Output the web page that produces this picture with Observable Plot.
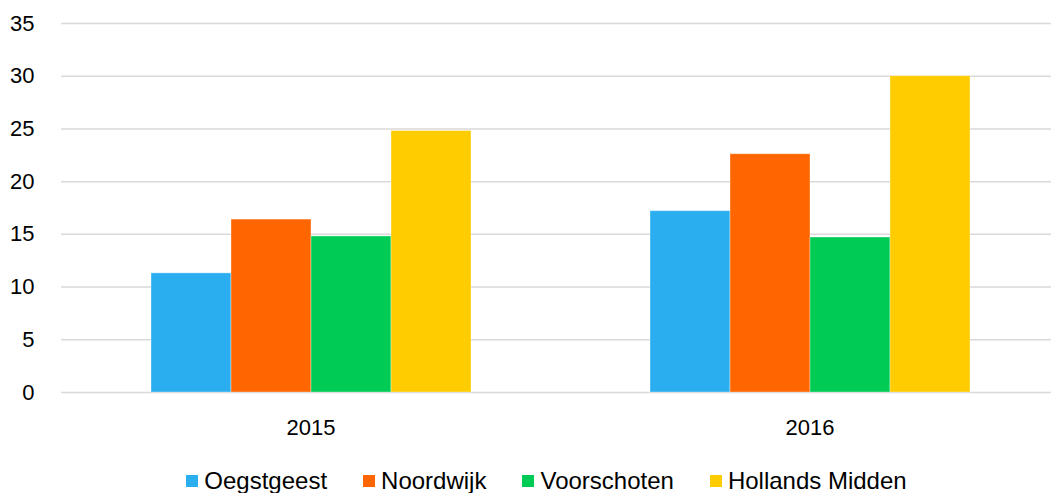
<!DOCTYPE html>
<html>
<head>
<meta charset="utf-8">
<script src="https://cdn.jsdelivr.net/npm/d3@7"></script>
<script src="https://cdn.jsdelivr.net/npm/@observablehq/plot@0.6"></script>
<style>
  html, body { margin: 0; padding: 0; background: #fff; overflow: hidden; }
  #chart svg { display: block; }
  .legend { display: flex; justify-content: center; align-items: center; gap: 0; padding-left: 42px;
            font-family: "Liberation Sans", Arial, sans-serif; font-size: 24px; color: #000; margin-top: 12px; }
  .legend .item { display: flex; align-items: center; margin: 0 18px; }
  .legend .sw { width: 12px; height: 12px; margin-right: 6px; }
</style>
</head>
<body>
<div id="chart"></div>
<script>
const years = ["2015", "2016"];
const series = ["Oegstgeest", "Noordwijk", "Voorschoten", "Hollands Midden"];
const values2015 = [11.3, 16.4, 14.8, 24.8];
const values2016 = [17.2, 22.6, 14.7, 30.0];
const colors = ["#2BAEEF", "#FF6600", "#00CC55", "#FFCC00"];
const yTicks = [0, 5, 10, 15, 20, 25, 30, 35];

const valuesByYear = {"2015": values2015, "2016": values2016};
const data = years.flatMap(year => series.map((s, i) => ({year, series: s, value: valuesByYear[year][i]})));

const chart = Plot.plot({
  width: 1051,
  height: 455,
  marginTop: 23,
  marginBottom: 63,
  marginLeft: 62,
  marginRight: 0,
  style: {fontFamily: "Liberation Sans, Arial, sans-serif", fontSize: "22px", color: "#000", background: "#fff"},
  fx: {domain: years, range: [61, 1059], paddingInner: 0, paddingOuter: 0, label: null},
  x: {domain: series, paddingInner: 0, paddingOuter: 1.095, axis: null},
  y: {domain: [0, 35], label: null},
  color: {domain: series, range: colors},
  marks: [
    Plot.gridY(yTicks, {stroke: "#d9d9d9", strokeOpacity: 1, strokeWidth: 1.5}),
    Plot.barY(data, {fx: "year", x: "series", y: "value", fill: "series", stroke: "#ffffff", strokeOpacity: 0.35, strokeWidth: 1}),
    Plot.axisY(yTicks, {tickSize: 0, tickPadding: 27, label: null, fontSize: 22}),
    Plot.axisFx({anchor: "bottom", tickSize: 0, tickPadding: 27, label: null, fontSize: 22})
  ]
});
document.getElementById("chart").appendChild(chart);

const legend = document.createElement("div");
legend.className = "legend";
series.forEach((s, i) => {
  const item = document.createElement("div");
  item.className = "item";
  const sw = document.createElement("span");
  sw.className = "sw";
  sw.style.background = colors[i];
  const label = document.createElement("span");
  label.textContent = s;
  item.appendChild(sw);
  item.appendChild(label);
  legend.appendChild(item);
});
document.getElementById("chart").appendChild(legend);
</script>
</body>
</html>
